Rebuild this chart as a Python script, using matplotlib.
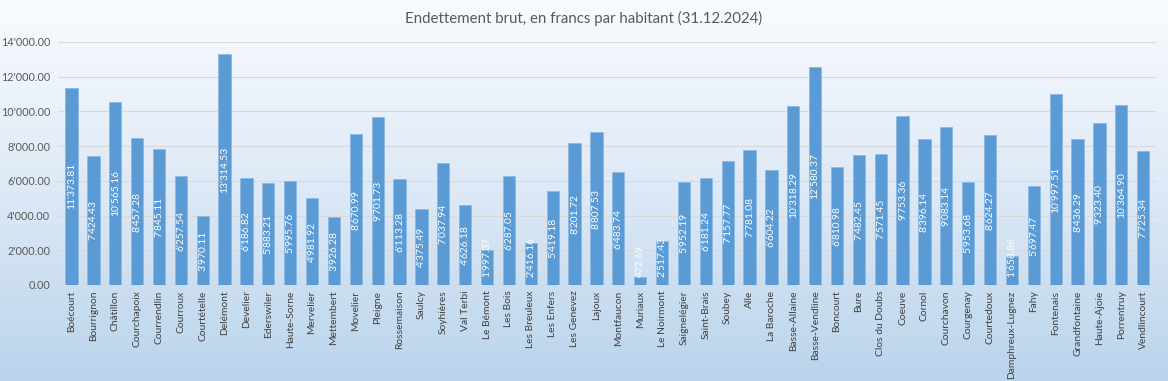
import matplotlib
matplotlib.use("Agg")
import matplotlib.pyplot as plt
import numpy as np
from matplotlib.colors import LinearSegmentedColormap

communes = ["Boécourt", "Bourrignon", "Châtillon", "Courchapoix", "Courrendlin", "Courroux",
            "Courtételle", "Delémont", "Develier", "Ederswiler", "Haute-Sorne", "Mervelier",
            "Mettembert", "Movelier", "Pleigne", "Rossemaison", "Saulcy", "Soyhières",
            "Val Terbi", "Le Bémont", "Les Bois", "Les Breuleux", "Les Enfers", "Les Genevez",
            "Lajoux", "Montfaucon", "Muriaux", "Le Noirmont", "Saignelégier", "Saint-Brais",
            "Soubey", "Alle", "La Baroche", "Basse-Allaine", "Basse-Vendline", "Boncourt",
            "Bure", "Clos du Doubs", "Coeuve", "Cornol", "Courchavon", "Courgenay",
            "Courtedoux", "Damphreux-Lugnez", "Fahy", "Fontenais", "Grandfontaine",
            "Haute-Ajoie", "Porrentruy", "Vendlincourt"]
dette = [11373.81, 7424.43, 10565.16, 8457.28, 7845.11, 6257.54,
         3970.11, 13314.53, 6186.82, 5883.21, 5995.76, 4981.92,
         3926.28, 8670.99, 9701.73, 6113.28, 4375.49, 7037.94,
         4626.18, 1997.37, 6287.05, 2416.16, 5419.18, 8201.72,
         8807.53, 6483.74, 472.69, 2517.43, 5952.19, 6181.24,
         7157.77, 7781.08, 6604.22, 10318.29, 12580.37, 6810.98,
         7482.45, 7571.45, 9753.36, 8396.14, 9083.14, 5953.68,
         8624.27, 1658.86, 5697.47, 10997.51, 8436.29,
         9323.40, 10364.90, 7725.34]
yticks = [0, 2000, 4000, 6000, 8000, 10000, 12000, 14000]
title = "Endettement brut, en francs par habitant (31.12.2024)"

def fmt(v):
    s = f"{v:,.2f}"
    return s.replace(",", "'")

plt.rcParams['font.family'] = ['Lato', 'DejaVu Sans']

fig = plt.figure(figsize=(11.68, 3.81), dpi=100)

# background gradient
bg = fig.add_axes([0, 0, 1, 1], zorder=-10)
cmap = LinearSegmentedColormap.from_list("bg", ["#F9FBFE", "#DDE9F6", "#BAD4EC"])
grad = np.linspace(0, 1, 256).reshape(-1, 1)
bg.imshow(grad, aspect="auto", cmap=cmap, extent=[0, 1, 0, 1], origin="upper")
bg.set_axis_off()

ax = fig.add_axes([0.05, 0.252, 0.94, 0.638])
ax.patch.set_alpha(0)
x = np.arange(len(communes))
ax.bar(x, dette, width=0.56, color="#5B9BD5", edgecolor="#8DB9E4", linewidth=0.6, zorder=3)

ax.set_ylim(0, 14000)
ax.set_xlim(-0.6, len(communes) - 0.4)

labels = []
for xi, v in zip(x, dette):
    t = ax.text(xi, v / 2, fmt(v), rotation=90, ha="center", va="center",
                color="white", fontsize=7.4, zorder=4)
    labels.append((t, xi, v))

# keep labels above the axis (as the spreadsheet does for short bars)
fig.canvas.draw()
r = fig.canvas.get_renderer()
px_per_unit = ax.transData.transform((0, 1000))[1] - ax.transData.transform((0, 0))[1]
px_per_unit /= 1000.0
min_bottom_px = 8
for t, xi, v in labels:
    bb = t.get_window_extent(renderer=r)
    half = bb.height / 2 / px_per_unit
    center = max(v / 2, half + min_bottom_px / px_per_unit)
    t.set_y(center)

ax.set_yticks(yticks)
ax.set_yticklabels([fmt(t) for t in yticks], fontsize=7.8, color="#595959")
ax.set_xticks(x)
ax.set_xticklabels(communes, rotation=90, fontsize=7.4, color="#404040")
ax.tick_params(axis="y", length=0, pad=6)
ax.tick_params(axis="x", length=0, pad=4)
ax.set_xticks(np.arange(len(communes) + 1) - 0.5, minor=True)
ax.tick_params(axis="x", which="minor", length=4, color="#D9D9D9")
ax.grid(axis="y", color="#D9D9D9", linewidth=0.8, zorder=0)
for s in ["top", "right", "left"]:
    ax.spines[s].set_visible(False)
ax.spines["bottom"].set_color("#D9D9D9")

fig.text(0.5, 0.952, title, ha="center", va="center", fontsize=10.8, color="#595959")

fig.savefig("out.png", dpi=100)
